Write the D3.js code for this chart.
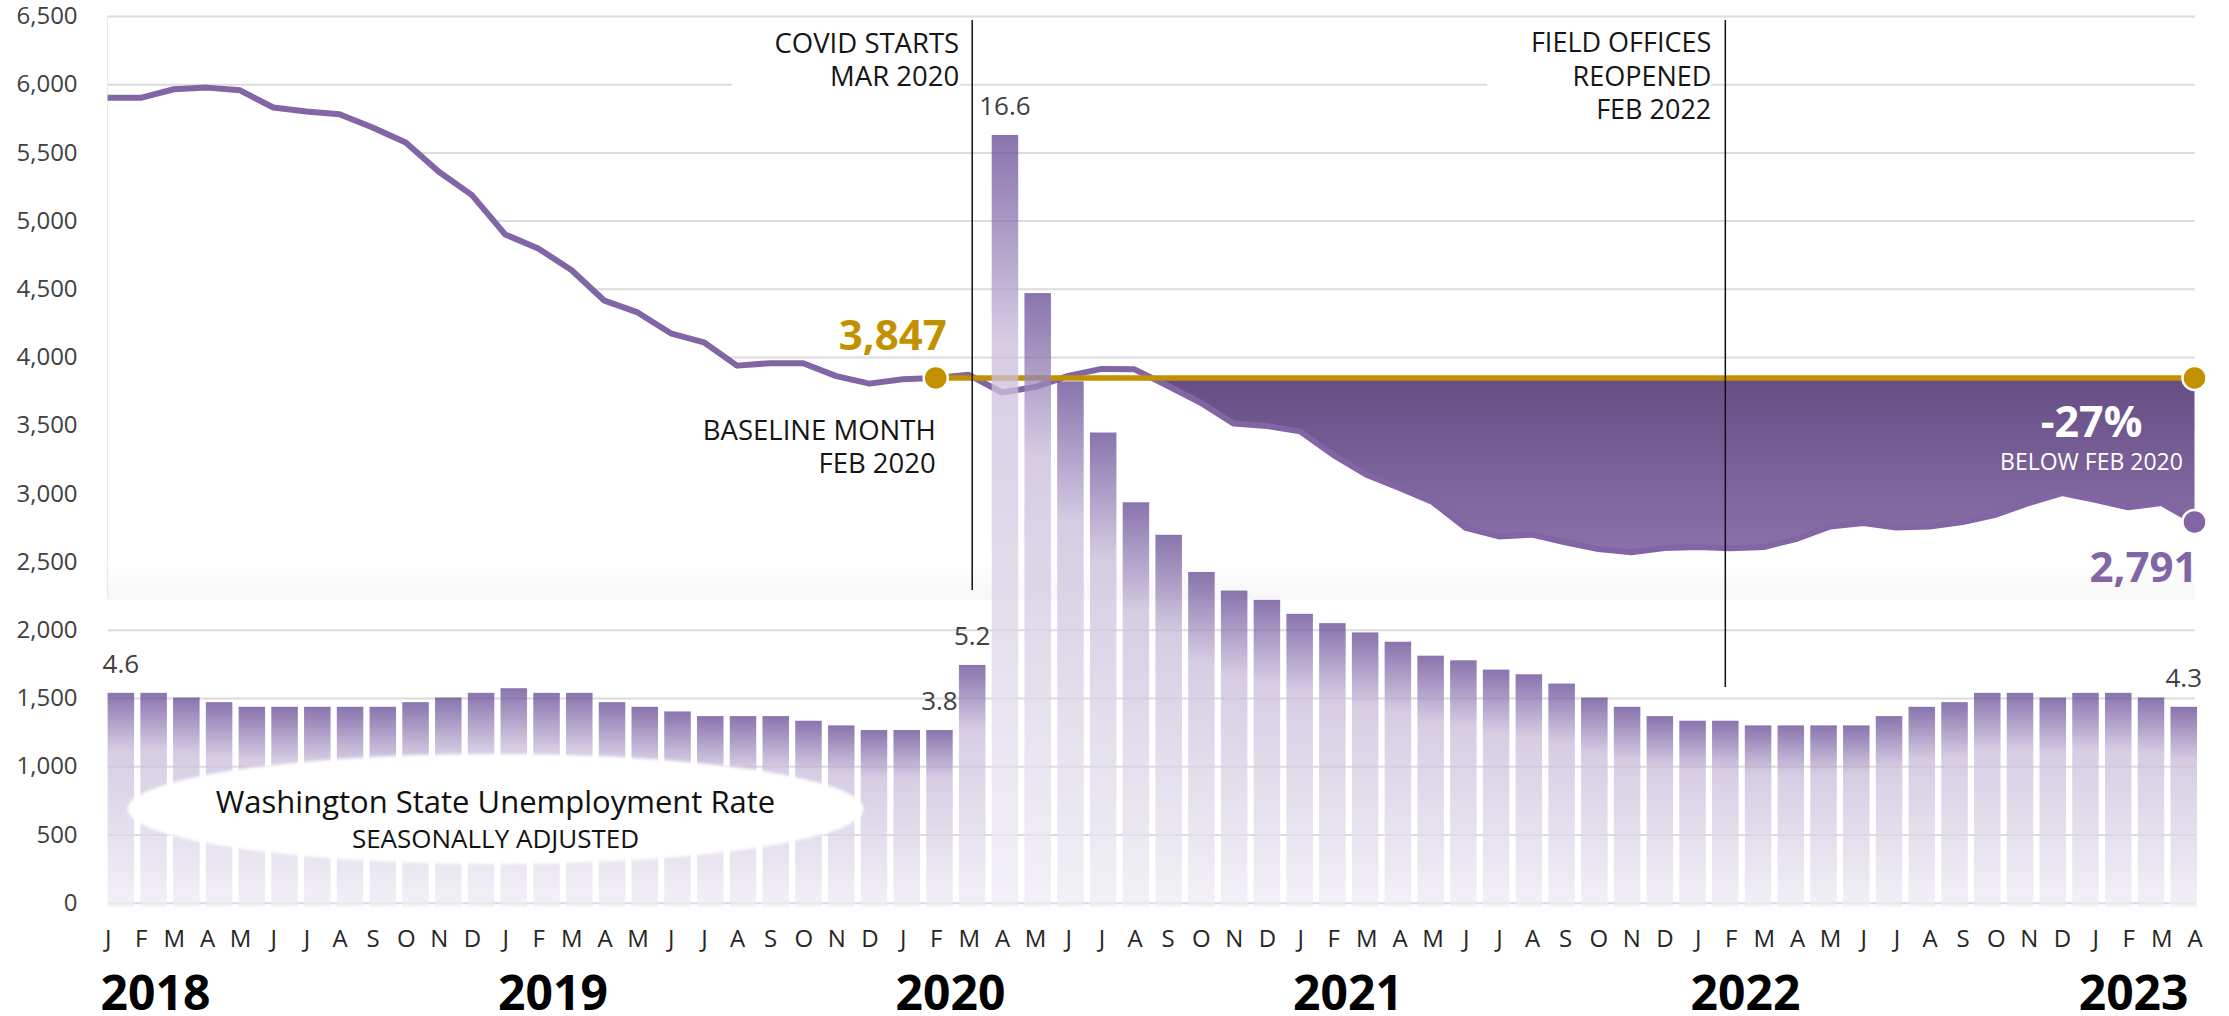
<!DOCTYPE html>
<html><head><meta charset="utf-8">
<script src="https://cdn.jsdelivr.net/npm/d3@7"></script>
<style>
body{margin:0;background:#fff;}
svg{display:block;font-family:"Open Sans","Noto Sans",sans-serif;}
</style>
</head><body>
<svg id="c" width="2229" height="1016"></svg>
<script>
// ---------- DATA ----------
const monthLabels = ["J","F","M","A","M","J","J","A","S","O","N","D",
  "J","F","M","A","M","J","J","A","S","O","N","D",
  "J","F","M","A","M","J","J","A","S","O","N","D",
  "J","F","M","A","M","J","J","A","S","O","N","D",
  "J","F","M","A","M","J","J","A","S","O","N","D",
  "J","F","M","A"];
const years = ["2018","2019","2020","2021","2022","2023"];
const yearStartIndex = [0,12,24,36,48,60];
// monthly count (line, left axis)
const claims = [5900,5900,5963,5975,5955,5829,5800,5780,5682,5572,5358,5187,
  4899,4796,4638,4413,4327,4174,4108,3937,3955,3955,3860,3805,
  3837,3847,3870,3740,3780,3862,3913,3910,3790,3665,3512,3495,
  3455,3283,3137,3040,2937,2747,2685,2698,2642,2593,2568,2600,
  2607,2598,2607,2668,2758,2783,2751,2758,2790,2844,2930,3003,
  2954,2898,2930,2791];
// Washington State unemployment rate, seasonally adjusted (bars)
const unemployment = [4.6,4.6,4.5,4.4,4.3,4.3,4.3,4.3,4.3,4.4,4.5,4.6,
  4.7,4.6,4.6,4.4,4.3,4.2,4.1,4.1,4.1,4.0,3.9,3.8,
  3.8,3.8,5.2,16.6,13.2,11.3,10.2,8.7,8.0,7.2,6.8,6.6,
  6.3,6.1,5.9,5.7,5.4,5.3,5.1,5.0,4.8,4.5,4.3,4.1,
  4.0,4.0,3.9,3.9,3.9,3.9,4.1,4.3,4.4,4.6,4.6,4.5,
  4.6,4.6,4.5,4.3];
const yTicks = [0,500,1000,1500,2000,2500,3000,3500,4000,4500,5000,5500,6000,6500];
const barLabelIndex = [0,25,26,27,63];
const baselineIndex = 25;   // Feb 2020
const covidIndex = 26;      // Mar 2020
const fieldIndex = 49;      // Feb 2022
const baselineValue = claims[baselineIndex];
const lastValue = claims[claims.length-1];

// ---------- SCALES ----------
const svg = d3.select("#c");
const n = claims.length;
const plotL = 107.6, plotR = 2195;
const x = d3.scaleLinear().domain([0,n-1]).range([plotL,2194.5]);
const xb = d3.scaleBand().domain(d3.range(n)).range([plotL,2197]).paddingInner(0.19).paddingOuter(0);
const bw = xb.bandwidth();
const y = d3.scaleLinear().domain([0,6500]).range([902.7,16]);
const yb = d3.scaleLinear().domain([0,16.6]).range([906.7,135]);

const GOLD = "#c29100", PURPLE = "#8165a5";

// ---------- DEFS ----------
const defs = svg.append("defs");
const bg = defs.append("linearGradient").attr("id","barGrad").attr("x1",0).attr("y1",0).attr("x2",0).attr("y2",1);
bg.append("stop").attr("offset","0").attr("stop-color","#654894");
bg.append("stop").attr("offset","0.27").attr("stop-color","#c9bddb");
bg.append("stop").attr("offset","1").attr("stop-color","#efecf4");
const ag = defs.append("linearGradient").attr("id","areaGrad").attr("gradientUnits","userSpaceOnUse")
  .attr("x1",0).attr("x2",0).attr("y1",y(baselineValue)).attr("y2",y(2560));
ag.append("stop").attr("offset","0").attr("stop-color","#664d84");
ag.append("stop").attr("offset","1").attr("stop-color","#8b72ab");
const sg = defs.append("linearGradient").attr("id","bandGrad").attr("x1",0).attr("y1",0).attr("x2",0).attr("y2",1);
sg.append("stop").attr("offset","0").attr("stop-color","#fdfdfd");
sg.append("stop").attr("offset","1").attr("stop-color","#f7f7f7");
const blur = defs.append("filter").attr("id","soft").attr("x","-5%").attr("y","-20%").attr("width","110%").attr("height","140%");
blur.append("feGaussianBlur").attr("stdDeviation",1.6);

// ---------- GRIDLINES + Y AXIS ----------
const gy = svg.append("g").attr("transform",`translate(${plotL},0)`)
  .call(d3.axisLeft(y).tickValues(yTicks).tickSize(-(plotR-plotL)).tickPadding(30).tickFormat(d3.format(",")));
gy.select(".domain").remove();
gy.selectAll(".tick line").attr("stroke","#dcdcdc").attr("stroke-width",2);
gy.selectAll(".tick text").attr("font-size",24).attr("fill","#404040").attr("font-family","Open Sans");

// white area below the line (upper panel)
svg.append("path").datum(claims)
  .attr("d", d3.area().x((d,i)=>x(i)).y0(598).y1(d=>y(d)))
  .attr("fill","#fff");
// soft band at the bottom of upper panel
svg.append("rect").attr("x",plotL).attr("width",plotR-plotL).attr("y",567).attr("height",33).attr("fill","url(#bandGrad)");
// faint left edge
svg.append("line").attr("x1",plotL).attr("x2",plotL).attr("y1",y(6500)).attr("y2",598)
  .attr("stroke","#e6e6ef").attr("stroke-width",1);

// ---------- DEFICIT AREA ----------
let j = n-2;
while (j > 0 && claims[j] < baselineValue) j--;
const t = (claims[j]-baselineValue)/(claims[j]-claims[j+1]);
const areaData = [{i:j+t, v:baselineValue}].concat(claims.slice(j+1).map((v,k)=>({i:j+1+k, v})));
svg.append("path").datum(areaData)
  .attr("d", d3.area().x(d=>x(d.i)).y0(y(baselineValue)).y1(d=>y(d.v)))
  .attr("fill","url(#areaGrad)");

// ---------- LINES ----------
svg.append("path").datum(claims)
  .attr("d", d3.line().x((d,i)=>x(i)).y(d=>y(d)))
  .attr("fill","none").attr("stroke",PURPLE).attr("stroke-width",6).attr("stroke-linejoin","round");
svg.append("line").attr("x1",x(baselineIndex)).attr("x2",x(n-1)).attr("y1",y(baselineValue)).attr("y2",y(baselineValue))
  .attr("stroke",GOLD).attr("stroke-width",5.5);

// ---------- BARS ----------
svg.append("g").selectAll("rect").data(unemployment).join("rect")
  .attr("x",(d,i)=>xb(i)).attr("width",bw)
  .attr("y",d=>yb(d)).attr("height",d=>yb(0)-yb(d))
  .attr("fill","url(#barGrad)").attr("opacity",0.76);

svg.append("g").selectAll("text").data(barLabelIndex).join("text")
  .attr("x",i=>xb(i)+bw/2).attr("y",i=>yb(unemployment[i])-20)
  .attr("text-anchor","middle").attr("font-size",26).attr("fill","#404040")
  .text(i=>d3.format(".1f")(unemployment[i]));

// ---------- DOTS ----------
const dots = [{i:baselineIndex,v:baselineValue,c:GOLD},{i:n-1,v:baselineValue,c:GOLD},{i:n-1,v:lastValue,c:PURPLE}];
svg.append("g").selectAll("circle").data(dots).join("circle")
  .attr("cx",d=>x(d.i)).attr("cy",d=>y(d.v)).attr("r",12)
  .attr("fill",d=>d.c).attr("stroke","#fff").attr("stroke-width",2.5);

// ---------- ANNOTATIONS ----------
const covidX = xb(covidIndex)+bw/2, fieldX = xb(fieldIndex)+bw/2;
svg.append("rect").attr("x",covidX-240).attr("y",20).attr("width",228).attr("height",78).attr("fill","#fff");
svg.append("rect").attr("x",fieldX-238).attr("y",20).attr("width",224).attr("height",110).attr("fill","#fff");
svg.append("line").attr("x1",covidX).attr("x2",covidX).attr("y1",20).attr("y2",590).attr("stroke","#111").attr("stroke-width",1.5);
svg.append("line").attr("x1",fieldX).attr("x2",fieldX).attr("y1",20).attr("y2",687).attr("stroke","#111").attr("stroke-width",1.5);

function multiline(xp, ys, lines, anchor, size, fill, weight){
  const g = svg.append("g");
  lines.forEach((s,k)=>g.append("text").attr("x",xp).attr("y",ys[k]).attr("text-anchor",anchor)
    .attr("font-size",size).attr("fill",fill).attr("font-weight",weight||400).text(s));
}
multiline(covidX-13,[53,86],["COVID STARTS","MAR 2020"],"end",27.5,"#151515");
multiline(fieldX-14,[52,85.5,119],["FIELD OFFICES","REOPENED","FEB 2022"],"end",27,"#151515");
multiline(x(baselineIndex),[440,473],["BASELINE MONTH","FEB 2020"],"end",27.5,"#151515");
multiline(x(baselineIndex)+11,[350],[d3.format(",")(baselineValue)],"end",42,GOLD,700);
const pct = Math.round((lastValue-baselineValue)/baselineValue*100);
multiline(x(n-1)-103,[437],[pct+"%"],"middle",43,"#fff",700);
multiline(x(n-1)-103,[470],["BELOW FEB 2020"],"middle",23,"#fff");
multiline(x(n-1)+3,[582],[d3.format(",")(lastValue)],"end",42,PURPLE,700);

// legend ellipse
svg.append("ellipse").attr("cx",495.5).attr("cy",809).attr("rx",368).attr("ry",55)
  .attr("fill","#fff").attr("filter","url(#soft)");
multiline(495.5,[813],["Washington State Unemployment Rate"],"middle",31,"#111");
multiline(495.5,[848],["SEASONALLY ADJUSTED"],"middle",26,"#111");

// ---------- X AXIS ----------
const gx = svg.append("g").attr("transform","translate(0,920)")
  .call(d3.axisBottom(x).tickValues(d3.range(n)).tickSize(0).tickFormat(i=>monthLabels[i]));
gx.select(".domain").remove();
gx.selectAll(".tick text").attr("y",26.7).attr("dy",null).attr("font-size",24).attr("fill","#262626").attr("font-family","Open Sans");

svg.append("g").selectAll("text").data(years).join("text")
  .attr("x",(d,k)=> k===years.length-1 ? x(n-1)-6 : x(yearStartIndex[k])-7)
  .attr("text-anchor",(d,k)=> k===years.length-1 ? "end" : "start")
  .attr("y",1010).attr("font-size",48).attr("font-weight",700).attr("fill","#000")
  .text(d=>d);
</script>
</body></html>
